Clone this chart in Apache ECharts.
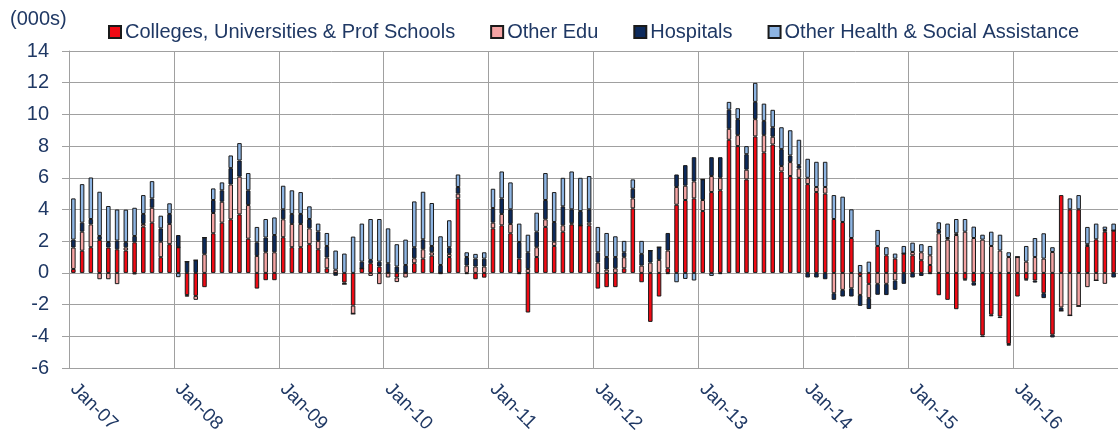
<!DOCTYPE html>
<html>
<head>
<meta charset="utf-8">
<script src="https://cdn.jsdelivr.net/npm/echarts@6/dist/echarts.min.js"></script>
<style>
html,body{margin:0;padding:0;background:#fff;}
#chart{width:1118px;height:446px;}
</style>
</head>
<body>
<div id="chart"></div>
<script>
const months = ['Jan','Feb','Mar','Apr','May','Jun','Jul','Aug','Sep','Oct','Nov','Dec'];
const years = ['07','08','09','10','11','12','13','14','15','16'];
const categories = [];
years.forEach(y => months.forEach(m => categories.push(m + '-' + y)));

const seriesNames = ['Colleges, Universities & Prof Schools','Other Edu','Hospitals','Other Health & Social Assistance'];

const colleges = [
 0.25,1.4,1.62,2.08,1.6,1.49,1.41,1.93,2.92,3.17,0.99,1.81,
 1.62,-1.4,-1.45,-0.9,2.5,3.17,3.38,3.69,2.16,-0.99,-0.46,-0.46,
 2.25,1.62,1.62,1.81,1.49,0.29,0,-0.6,-2.06,0.29,0.61,0.4,
 0,-0.29,0,0.61,0.9,1.09,0,1.0,4.7,-0.08,-0.4,-0.3,
 2.81,3.0,2.5,0.9,-2.5,1.0,2.9,1.7,2.6,3.06,3.0,3.0,
 -0.99,-0.9,-0.9,0.29,4.07,-0.59,-3.09,-1.49,0.29,4.3,4.6,4.7,
 3.9,5.1,5.21,8.4,8.0,5.9,8.61,7.6,8.1,6.4,6.11,6.0,
 5.6,5.1,5.0,3.4,3.21,2.2,-0.19,-0.69,1.7,1.11,0.9,1.22,
 1.11,0.8,0.5,-1.41,-1.7,-2.29,-0.4,-0.59,-3.95,-2.64,-2.75,-4.49,
 -1.49,-0.4,-0.48,-1.28,-3.9,4.91,4.01,4.01,1.7,2.12,2.6,2.67
];
const otherEdu = [
 1.35,1.2,1.44,-0.4,-0.4,-0.71,0.2,-0.1,0.17,0.94,0.98,1.28,
 0,-0.1,-0.25,1.18,1.28,1.32,2.2,2.38,2.12,1.07,1.3,1.3,
 1.13,1.47,1.47,1.0,0.53,0.68,0.2,-0.1,-0.52,0,-0.19,-0.71,
 -0.29,-0.29,-0.29,0.31,0.59,0.21,-0.08,0.2,0.3,0.46,0.4,0.4,
 0.36,0.72,0.59,-0.08,0.25,0.62,0.48,0.27,0.4,0.07,0,0.17,
 0.65,0.21,0.29,0.7,0.63,0.46,0.65,0.82,1.12,1.12,0.9,1.07,
 0.7,1.01,0.79,0.69,0.69,0.61,1.09,1.09,0.49,0.34,0.88,0.59,
 0.4,0.32,0.42,-1.28,-1.07,-0.97,-1.2,-0.9,-0.69,-0.69,-0.48,0,
 0.21,0.5,0.61,2.5,2.1,2.39,2.6,2.2,2.1,1.7,1.41,1.0,
 1.0,0.71,1.0,0.9,1.32,-2.18,-2.69,-2.1,-0.9,-0.48,-0.69,0
];
const hospitals = [
 0.5,0.57,0.34,0.25,0.35,0.55,0.33,0.4,0.63,0.59,0.84,0.63,
 0.77,0.71,0.8,1.05,0.82,0.72,1.03,1.02,0.93,0.86,0.93,1.09,
 0.63,0.63,0.63,0.59,0.6,0.73,-0.18,0,0,0.42,0.21,0.31,
 0.61,0.4,0.5,0.7,0.63,0.4,0.5,0.42,0.42,0.54,0.5,0.5,
 0.92,0.98,0.92,1.05,1.05,0.98,1.22,1.24,1.2,0.88,0.9,0.84,
 0.65,0.79,0.71,0.31,0.61,0.74,0.76,0.8,1.11,0.79,1.3,1.53,
 1.3,1.19,1.3,1.21,1.01,0.98,1.09,0.9,0.6,1.07,0.42,0.21,
 -0.29,-0.29,-0.4,-0.42,-0.42,-0.52,-0.69,-0.69,-0.69,-0.71,-0.59,-0.69,
 -0.29,-0.19,-0.08,0.21,0.1,0.11,-0.08,-0.21,-0.1,-0.1,-0.1,-0.1,
 0,-0.08,-0.13,-0.31,-0.17,-0.21,0,0,0.11,0,0.11,-0.29
];
const otherHealth = [
 2.6,2.43,2.62,2.79,2.27,1.96,2.05,1.78,1.19,1.09,0.8,0.67,
 -0.27,0,0,0,0.73,0.5,0.8,1.1,1.09,0.97,1.17,1.11,
 1.49,1.49,1.38,0.8,0.49,0.82,1.21,1.22,2.29,2.4,2.58,2.69,
 2.2,1.41,1.6,2.89,3.0,2.71,1.81,1.7,0.79,0.3,0.3,0.4,
 1.22,1.7,1.7,1.16,1.11,1.2,1.7,1.89,1.8,2.39,2.1,2.1,
 1.6,1.52,1.31,0.72,0.59,0.82,0,0,-0.08,-0.59,-0.38,-0.48,
 0,-0.19,-0.08,0.49,0.69,0.51,1.2,1.09,1.1,1.38,1.59,1.6,
 1.2,1.59,1.59,1.51,1.6,1.81,0.5,0.71,1.01,0.51,0.32,0.48,
 0.59,0.51,0.59,0.48,0.91,0.9,0.8,0.72,0.31,0.9,1.0,0.3,
 0,0.99,1.2,1.6,0.3,0,0.69,0.9,1.09,0.99,0.21,0.44
];

const yMin = -6, yMax = 14, yStep = 2;
const colors = ['#F00A14','#F4A3A3','#0D2A5C','#8DB4E2'];
const textColor = '#1F3864';
const font = 'Liberation Sans, Arial, sans-serif';
const gridColor = '#A0A0A0';

const chart = echarts.init(document.getElementById('chart'), null, {renderer:'canvas'});
const dataSets = [colleges, otherEdu, hospitals, otherHealth];
chart.setOption({
  animation: false,
  backgroundColor: '#fff',
  textStyle: {fontFamily: font},
  graphic: [{
    type: 'text', left: 10, top: 9,
    style: {text: '(000s)', fontSize: 20, fontFamily: font, fill: textColor}
  }],
  legend: {
    left: 103, top: 17, itemWidth: 12, itemHeight: 12, itemGap: 35,
    icon: 'rect',
    textStyle: {fontSize: 20, color: textColor, fontFamily: font, padding: [0,0,0,-1]},
    data: seriesNames
  },
  grid: {left: 69, top: 51, width: 1054, height: 317, containLabel: false},
  xAxis: {
    type: 'category', data: categories, boundaryGap: true,
    axisLine: {onZero: false, lineStyle: {color: gridColor, width: 1}},
    axisTick: {show: false, interval: 11},
    axisLabel: {interval: 11, rotate: -45, fontSize: 19, color: textColor, fontFamily: font, margin: 18},
    splitLine: {show: true, interval: 11, lineStyle: {color: gridColor, width: 1}}
  },
  yAxis: {
    type: 'value', min: yMin, max: yMax, interval: yStep,
    axisLine: {show: true, lineStyle: {color: gridColor, width: 1}},
    axisTick: {show: true, length: 7, lineStyle: {color: gridColor}},
    axisLabel: {fontSize: 20, color: textColor, fontFamily: font, margin: 20},
    splitLine: {lineStyle: {color: gridColor, width: 1}}
  },
  series: seriesNames.map((n, i) => ({
    name: n, type: 'bar', stack: 'total', barWidth: 4.5,
    data: dataSets[i],
    itemStyle: {color: colors[i], borderColor: '#1a1a1a', borderWidth: 1}
  }))
});
</script>
</body>
</html>
